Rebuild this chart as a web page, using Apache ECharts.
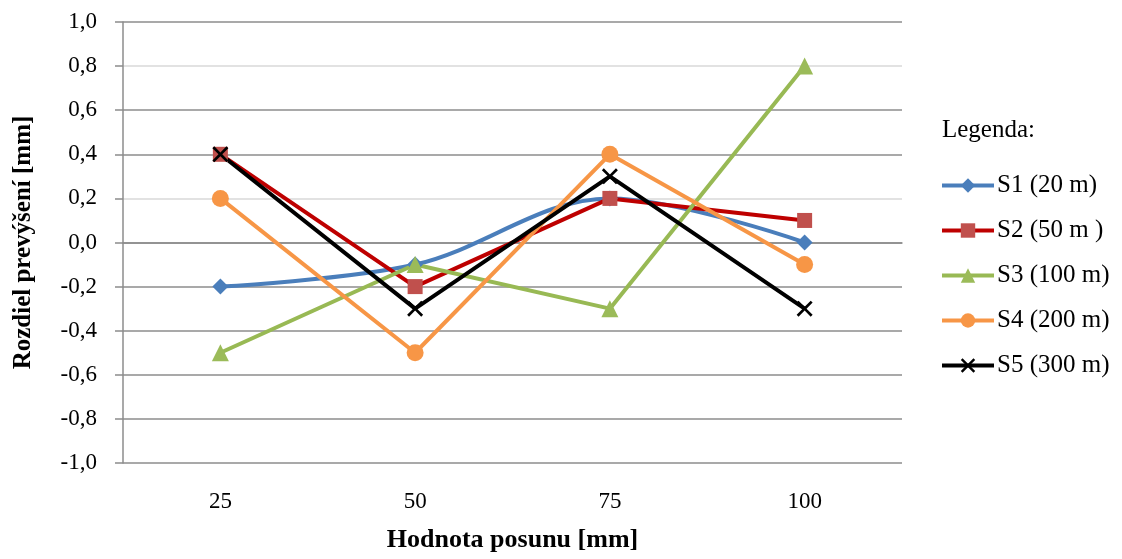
<!DOCTYPE html>
<html>
<head>
<meta charset="utf-8">
<script src="https://cdn.jsdelivr.net/npm/echarts@6/dist/echarts.min.js"></script>
<style>
  html, body { margin: 0; padding: 0; background: #ffffff; }
  #chart { width: 1122px; height: 559px; }
</style>
</head>
<body>
<div id="chart"></div>
<script>
// Displacement steps on the x axis [mm]
const categories = ['25', '50', '75', '100'];

// Height-difference deviations [mm] for each sight distance
const s1 = [-0.2, -0.1, 0.2, 0.0];
const s2 = [0.4, -0.2, 0.2, 0.1];
const s3 = [-0.5, -0.1, -0.3, 0.8];
const s4 = [0.2, -0.5, 0.4, -0.1];
const s5 = [0.4, -0.3, 0.3, -0.3];

const seriesNames = ['S1 (20 m)', 'S2 (50 m )', 'S3 (100 m)', 'S4 (200 m)', 'S5 (300 m)'];

const yMin = -1.0, yMax = 1.0, yStep = 0.2;

const FONT = '"Liberation Serif", "Times New Roman", serif';
const crossPath = 'path://M0,1.2L1.2,0L5,3.8L8.8,0L10,1.2L6.2,5L10,8.8L8.8,10L5,6.2L1.2,10L0,8.8L3.8,5Z';

function makeSeries(name, data, lineColor, markerColor, symbol, size, smooth) {
  return {
    name: name,
    type: 'line',
    data: data,
    smooth: smooth ? 0.35 : false,
    symbol: symbol,
    symbolSize: size,
    showAllSymbol: true,
    lineStyle: { color: lineColor, width: 4 },
    itemStyle: { color: markerColor, borderWidth: 0 },
    emphasis: { disabled: true },
    z: 3
  };
}

const chart = echarts.init(document.getElementById('chart'), null, { renderer: 'canvas' });

chart.setOption({
  animation: false,
  backgroundColor: '#ffffff',
  textStyle: { fontFamily: FONT },
  title: {
    text: 'Legenda:',
    left: 937,
    top: 113,
    textStyle: { fontFamily: FONT, fontSize: 25, fontWeight: 'normal', color: '#000' }
  },
  legend: {
    orient: 'vertical',
    left: 935,
    top: 168,
    padding: 5,
    itemWidth: 52,
    itemHeight: 18,
    itemGap: 20,
    data: seriesNames,
    lineStyle: { width: 4 },
    textStyle: { fontFamily: FONT, fontSize: 25, color: '#000', padding: [0, 0, 0, -2] }
  },
  grid: { left: 123, right: 220, top: 22, bottom: 96, containLabel: false },
  xAxis: {
    type: 'category',
    data: categories,
    boundaryGap: true,
    name: 'Hodnota posunu [mm]',
    nameLocation: 'middle',
    nameGap: 64,
    nameTextStyle: { fontFamily: FONT, fontSize: 26, fontWeight: 'bold', color: '#000' },
    axisLine: { lineStyle: { color: '#8c8c8c', width: 1.5 } },
    axisTick: { show: false },
    axisLabel: { margin: 27, fontFamily: FONT, fontSize: 23, color: '#000' },
    splitLine: { show: false }
  },
  yAxis: {
    type: 'value',
    min: yMin,
    max: yMax,
    interval: yStep,
    name: 'Rozdiel prevýšení [mm]',
    nameLocation: 'middle',
    nameGap: 87,
    nameRotate: 90,
    nameTextStyle: { fontFamily: FONT, fontSize: 25, fontWeight: 'bold', color: '#000' },
    axisLine: { show: true, lineStyle: { color: '#8c8c8c', width: 1.5 } },
    axisTick: { show: true, length: 8, lineStyle: { color: '#8c8c8c', width: 1.5 } },
    axisLabel: {
      margin: 26,
      fontFamily: FONT,
      fontSize: 23,
      color: '#000',
      formatter: function (v) { return v.toFixed(1).replace('.', ','); }
    },
    splitLine: {
      show: true,
      lineStyle: {
        width: 1.5,
        color: ['#8c8c8c', '#8c8c8c', '#8c8c8c', '#8c8c8c', '#8c8c8c', '#8c8c8c', '#d9d9d9', '#8c8c8c', '#8c8c8c', '#d9d9d9', '#8c8c8c']
      }
    }
  },
  series: [
    makeSeries(seriesNames[0], s1, '#4a7ebb', '#4a7ebb', 'diamond', 16, true),
    makeSeries(seriesNames[1], s2, '#be0000', '#c0504d', 'rect', 15, false),
    makeSeries(seriesNames[2], s3, '#98b954', '#9bbb59', 'triangle', 17, false),
    makeSeries(seriesNames[3], s4, '#f79646', '#f79646', 'circle', 17, false),
    makeSeries(seriesNames[4], s5, '#000000', '#000000', crossPath, 16, false)
  ]
});
</script>
</body>
</html>
